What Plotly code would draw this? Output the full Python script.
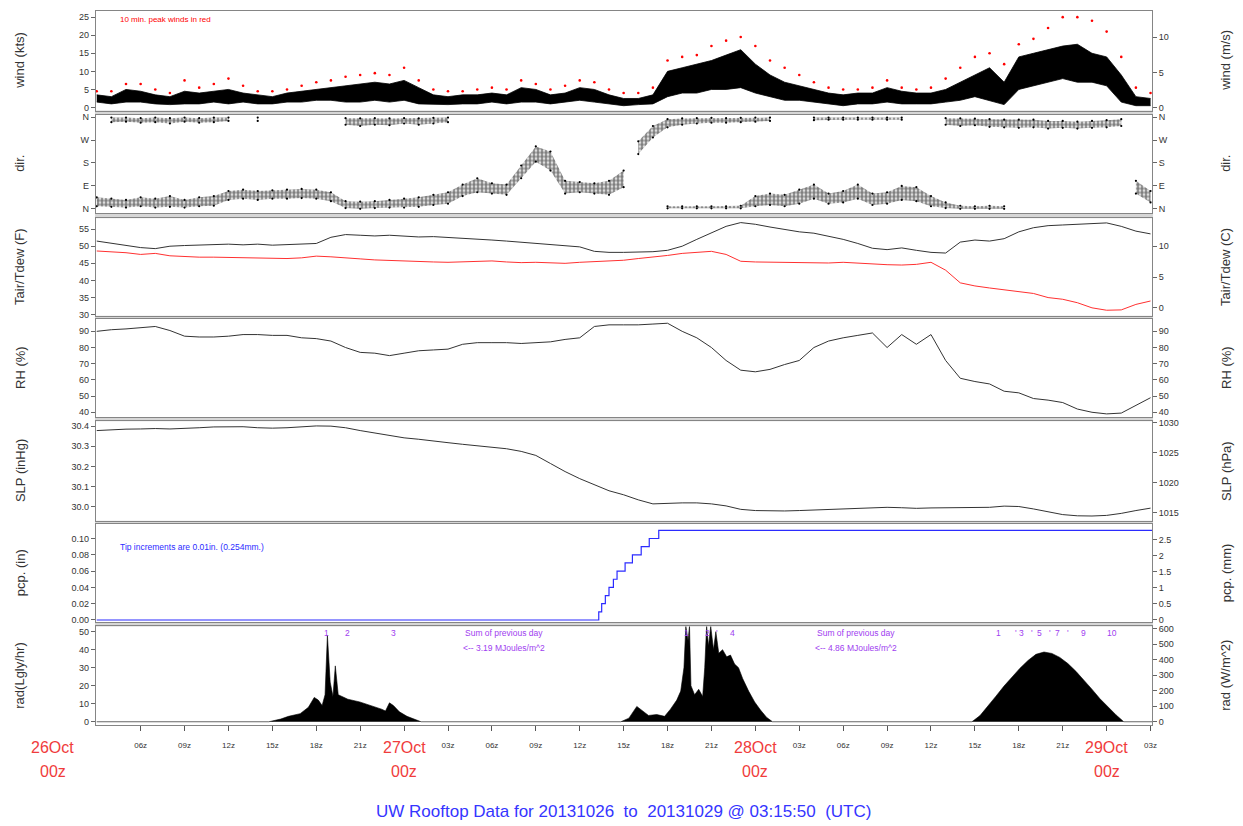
import plotly.graph_objects as go

# ------------------------------------------------------------------ data
# hours after 26 Oct 2013 00z
hours = list(range(3, 76))

wind_lo_kts = [1.5, 1.0, 1.5, 1.5, 1.0, 0.8, 1.0, 1.0, 1.5, 1.0,
               1.5, 1.0, 1.0, 1.5, 1.5, 2.0, 2.0, 1.5, 1.5, 2.0,
               1.5, 2.0, 1.0, 0.8, 0.8, 1.0, 1.0, 1.5, 1.0, 1.5,
               1.5, 1.0, 1.5, 2.0, 1.5, 1.0, 0.5, 0.8, 1.0, 3.0,
               4.0, 4.0, 5.0, 5.0, 5.5, 4.0, 3.0, 2.0, 2.0, 1.5,
               1.0, 0.5, 1.0, 1.0, 1.5, 1.0, 1.0, 1.0, 1.5, 2.0,
               3.0, 2.0, 0.8, 5.0, 6.0, 7.0, 8.0, 7.0, 7.0, 6.0,
               1.5, 0.5, 0.5]
wind_hi_kts = [3.5, 3.0, 5.0, 4.5, 3.5, 3.0, 4.5, 4.0, 4.5, 5.0,
               4.0, 3.5, 3.0, 4.0, 4.5, 5.0, 5.5, 6.0, 6.5, 7.0,
               6.5, 7.5, 5.5, 3.5, 3.0, 3.5, 3.5, 4.0, 3.5, 5.5,
               5.0, 3.5, 4.0, 5.5, 5.0, 3.5, 2.5, 2.5, 3.5, 10.0,
               11.0, 12.0, 13.0, 14.5, 16.0, 12.0, 9.0, 7.0, 6.0, 5.0,
               4.0, 3.5, 4.0, 4.0, 5.5, 4.5, 4.0, 4.0, 5.0, 7.0,
               9.0, 11.0, 7.0, 14.0, 15.0, 16.0, 17.0, 17.5, 15.0, 14.0,
               9.0, 3.0, 2.5]
wind_peak_kts = [4.5, 4.5, 6.5, 6.5, 5.0, 4.0, 7.5, 5.5, 6.5, 8.0,
                 6.0, 4.5, 4.5, 5.0, 6.0, 7.0, 7.5, 8.5, 9.0, 9.5,
                 9.0, 11.0, 7.5, 5.0, 4.5, 4.5, 5.0, 5.5, 5.0, 7.5,
                 6.5, 5.0, 6.0, 7.5, 7.0, 5.0, 4.0, 4.0, 5.5, 13.0,
                 14.0, 14.5, 17.0, 18.5, 19.5, 17.0, 13.0, 11.0, 9.0, 7.0,
                 5.5, 5.0, 5.0, 5.5, 7.5, 5.5, 5.0, 5.5, 8.0, 11.0,
                 14.0, 15.0, 12.0, 17.5, 19.0, 22.0, 25.0, 25.0, 24.0, 21.0,
                 14.0, 5.5, 4.0]

N = None
dir1_lo = [10, 8, 5, 10, 5, 8, 5, 10, 12, 35,
           40, 35, 40, 40, 42, 40, 30, 3, 0, 3,
           5, 5, 8, 15, 20, 50, 65, 60, 55, 120,
           185, 150, 60, 65, 60, 55, 85, N, N, 2,
           2, 2, 2, 2, 2, 10, 15, 10, 20, 40,
           20, 25, 40, 15, 20, 35, 30, 10, 3, 0,
           0, 0, 0, N, N, N, N, N, N, N,
           N, 60, 25]
dir1_hi = [45, 40, 35, 45, 40, 50, 35, 45, 50, 70,
           75, 70, 72, 75, 78, 75, 65, 30, 28, 30,
           35, 40, 45, 55, 65, 95, 120, 100, 95, 170,
           245, 225, 110, 105, 100, 110, 150, N, N, 10,
           10, 10, 10, 10, 12, 50, 60, 55, 75, 95,
           60, 70, 95, 60, 65, 90, 85, 50, 25, 12,
           10, 12, 10, N, N, N, N, N, N, N,
           N, 110, 70]
dir2_lo = [N, 340, 342, 338, 340, 335, 342, 338, 340, 345,
           N, 345, N, N, N, N, N, 330, 325, 330,
           328, 335, 330, 335, 340, N, N, N, N, N,
           N, N, N, N, N, N, N, 215, 280, 320,
           330, 335, 338, 338, 340, 342, 345, N, N, 348,
           350, 350, 350, 350, 350, 350, N, N, 330, 325,
           328, 322, 320, 318, 320, 315, 318, 315, 318, 320,
           325, N, N]
dir2_hi = [N, 358, 358, 356, 358, 356, 358, 356, 358, 358,
           N, 358, N, N, N, N, N, 356, 355, 356,
           355, 356, 355, 357, 358, N, N, N, N, N,
           N, N, N, N, N, N, N, 265, 325, 352,
           355, 356, 357, 356, 357, 358, 358, N, N, 358,
           358, 358, 358, 358, 358, 358, N, N, 356, 355,
           354, 352, 350, 350, 350, 345, 345, 342, 345, 348,
           352, N, N]

tair_f = [51.5, 50.8, 50.2, 49.6, 49.3, 50.0, 50.2, 50.4, 50.5, 50.6,
          50.4, 50.6, 50.3, 50.4, 50.5, 50.8, 52.6, 53.4, 53.2, 53.0,
          53.2, 52.9, 52.7, 52.8, 52.6, 52.3, 52.0, 51.8, 51.5, 51.2,
          50.9, 50.6, 50.2, 49.8, 48.5, 48.2, 48.2, 48.3, 48.4, 48.8,
          50.0, 52.0, 54.0, 55.8, 56.9, 56.4, 55.6, 54.8, 54.2, 53.8,
          53.0, 52.0, 50.8, 49.4, 49.0, 49.5, 48.8, 48.2, 48.0, 51.2,
          51.8, 51.5, 52.2, 54.2, 55.4, 56.0, 56.2, 56.4, 56.6, 56.8,
          55.8, 54.4, 53.6]
tdew_f = [48.6, 48.4, 48.1, 47.6, 47.9, 47.2, 46.9, 46.8, 46.8, 46.7,
          46.6, 46.6, 46.5, 46.4, 46.6, 47.1, 46.9, 46.5, 46.3, 46.0,
          45.8, 45.6, 45.5, 45.4, 45.3, 45.5, 45.6, 45.7, 45.4, 45.2,
          45.3, 45.1, 45.0, 45.3, 45.5, 45.6, 45.9, 46.4, 46.8, 47.3,
          47.9, 48.3, 48.5, 47.6, 45.6, 45.4, 45.3, 45.2, 45.3, 45.0,
          45.1, 45.3, 45.0, 44.8, 44.6, 44.5, 44.7, 45.3, 43.0, 39.3,
          38.4, 37.8, 37.2, 36.8, 36.2, 35.0, 34.5, 33.5, 32.0, 31.3,
          31.4, 33.0, 34.0]
rh_pct = [90.0, 91.0, 91.5, 92.2, 93.0, 90.5, 87.0, 86.5, 86.5, 87.0,
          88.0, 88.0, 87.5, 87.5, 86.0, 85.5, 84.0, 80.0, 77.0, 76.5,
          75.0, 76.5, 78.0, 78.5, 79.0, 82.0, 83.0, 83.0, 83.0, 82.5,
          83.0, 83.5, 85.0, 86.0, 93.0, 94.0, 94.0, 94.0, 94.5, 95.0,
          90.0, 86.0, 80.0, 72.0, 66.0, 65.0, 66.5, 69.5, 72.0, 80.0,
          84.0, 86.0, 87.5, 89.0, 80.0, 88.0, 82.0, 88.0, 72.0, 61.0,
          59.0, 57.5, 53.0, 52.0, 48.5, 47.5, 46.0, 42.0, 40.0, 39.0,
          39.5, 44.0, 49.0]
slp_inhg = [30.378, 30.382, 30.385, 30.386, 30.388, 30.386, 30.388, 30.392, 30.396, 30.398,
            30.397, 30.392, 30.390, 30.392, 30.398, 30.401, 30.400, 30.392, 30.378, 30.365,
            30.352, 30.342, 30.335, 30.325, 30.318, 30.310, 30.302, 30.296, 30.288, 30.275,
            30.255, 30.215, 30.175, 30.140, 30.110, 30.080, 30.060, 30.035, 30.015, 30.018,
            30.020, 30.020, 30.015, 30.005, 29.988, 29.982, 29.980, 29.980, 29.982, 29.985,
            29.988, 29.992, 29.995, 29.997, 29.998, 29.996, 29.993, 29.995, 29.996, 29.994,
            29.995, 29.998, 30.004, 30.002, 29.990, 29.975, 29.962, 29.956, 29.955, 29.958,
            29.968, 29.982, 29.994]

pcp_hours = [3.0, 37.3, 37.5, 37.75, 38.0, 38.3, 38.55, 39.1, 39.6, 40.2, 40.75, 41.4, 75.1]
pcp_in = [0.0, 0.01, 0.02, 0.03, 0.04, 0.05, 0.06, 0.07, 0.08, 0.09, 0.10, 0.11, 0.11]

rad_hours = [3.0, 14.76, 15.57, 16.1, 16.9, 17.46, 17.86, 18.14, 18.4, 18.6, 18.76, 18.95, 19.14,
             19.3, 19.5, 20.16, 20.97, 21.8, 22.46, 22.73, 23.0, 23.27, 23.68, 24.2, 24.76, 25.16,
             38.81, 39.36, 39.9, 40.3, 40.7, 41.26, 41.8, 42.2, 42.63, 42.9, 43.12, 43.25, 43.4,
             43.5, 43.6, 43.85, 44.13, 44.4, 44.54, 44.67, 44.8, 44.95, 45.14, 45.3, 45.5, 45.76,
             46.04, 46.3, 46.58, 46.85, 47.13, 47.54, 47.95, 48.35, 48.76, 49.17,
             62.8, 63.35, 63.9, 64.44, 64.99, 65.53, 66.08, 66.63, 67.17, 67.72, 68.26, 68.8,
             69.35, 69.9, 70.44, 70.99, 71.53, 72.08, 72.63, 73.17, 75.1]
rad_lgly = [0, 0, 1.5, 3, 4.5, 8, 13.5, 12, 9, 15, 48, 22, 14,
            31, 15, 12.5, 11, 9, 7, 6, 10.5, 9, 5.5, 3, 1, 0,
            0, 2, 8.5, 6, 3.5, 4, 3, 7, 12, 17, 30, 53, 45,
            53, 20, 15, 18, 14, 30, 53, 42, 53, 40, 50, 38, 40,
            36, 37, 32, 30, 24, 17, 11, 6.5, 2.5, 0,
            0, 3.4, 8.6, 14.2, 19.8, 25, 29.7, 34, 37.4, 38.7, 37.9, 35.7,
            32.3, 28, 23.2, 18.1, 12.9, 8.2, 3.9, 0, 0]

tick_hours = list(range(6, 76, 3))
tick_labels = ["06z", "09z", "12z", "15z", "18z", "21z", "",
               "03z", "06z", "09z", "12z", "15z", "18z", "21z", "",
               "03z", "06z", "09z", "12z", "15z", "18z", "21z", "", "03z"]
day_hours = [0, 24, 48, 72]
day_labels = ["26Oct", "27Oct", "28Oct", "29Oct"]

rad_marks_hours = [18.68, 20.1, 23.27, 43.31, 44.75, 45.35, 46.45,
                   64.58, 65.8, 66.2, 66.9, 67.44, 68.1, 68.67, 69.35, 70.4, 72.35]
rad_marks_text = ["1", "2", "3", "1", "2", "'", "4",
                  "1", "'", "3", "'", "5", "'", "7", "'", "9", "10"]
sum_hours = [30.8, 54.85]
sum_text = ["3.19", "4.86"]

# ------------------------------------------------------------------ layout helpers
W, H = 1243, 826
PL, PR, PT, PB = 96, 1152, 8, 725
XR = [2.95, 75.1]
panels_px = [(8, 108), (112, 211), (216, 314), (317, 416), (420, 520), (523, 622), (626, 725)]


def dom(top, bot):
    return [(PB - bot) / (PB - PT), (PB - top) / (PB - PT)]


def xp(px):
    return (px - PL) / (PR - PL)


def yp(py):
    return (PB - py) / (PB - PT)


def xh(h):
    return (h - XR[0]) / (XR[1] - XR[0])


left_ranges = [[-0.85, 26.7], [-17, 370], [29.7, 58.2], [36.9, 97.8],
               [29.931, 30.424], [-0.003, 0.118], [-1.8, 52.9]]
conv = [lambda v: v / 1.94384, lambda v: v, lambda v: (v - 32) * 5 / 9, lambda v: v,
        lambda v: v * 33.8639, lambda v: v * 25.4, lambda v: v * 11.622]
left_ticks = [
    (list(range(0, 26, 5)), [str(v) for v in range(0, 26, 5)]),
    ([0, 90, 180, 270, 360], ["N", "E", "S", "W", "N"]),
    (list(range(30, 56, 5)), [str(v) for v in range(30, 56, 5)]),
    (list(range(40, 91, 10)), [str(v) for v in range(40, 91, 10)]),
    ([30.0, 30.1, 30.2, 30.3, 30.4], ["30.0", "30.1", "30.2", "30.3", "30.4"]),
    ([0, 0.02, 0.04, 0.06, 0.08, 0.10], ["0.00", "0.02", "0.04", "0.06", "0.08", "0.10"]),
    (list(range(0, 51, 10)), [str(v) for v in range(0, 51, 10)]),
]
right_ticks = [
    ([0, 5, 10], ["0", "5", "10"]),
    ([0, 90, 180, 270, 360], ["N", "E", "S", "W", "N"]),
    ([0, 5, 10], ["0", "5", "10"]),
    (list(range(40, 91, 10)), [str(v) for v in range(40, 91, 10)]),
    ([1015, 1020, 1025, 1030], ["1015", "1020", "1025", "1030"]),
    ([0, 0.5, 1, 1.5, 2, 2.5], ["0", "0.5", "1", "1.5", "2", "2.5"]),
    (list(range(0, 601, 100)), [str(v) for v in range(0, 601, 100)]),
]
left_titles = ["wind (kts)", "dir.", "Tair/Tdew (F)", "RH (%)", "SLP (inHg)", "pcp. (in)", "rad(Lgly/hr)"]
right_titles = ["wind (m/s)", "dir.", "Tair/Tdew (C)", "RH (%)", "SLP (hPa)", "pcp. (mm)", "rad (W/m^2)"]

FONT = "Liberation Sans, Arial, sans-serif"
FRAME = "#858585"

fig = go.Figure()


def ax(i, base):
    return base if i == 1 else f"{base}{i}"


# ---- wind: band between hourly low/high readings, peaks as red dots
fig.add_trace(go.Scatter(x=hours, y=wind_lo_kts, mode="lines", line=dict(color="black", width=0.8),
                         xaxis="x", yaxis="y", showlegend=False))
fig.add_trace(go.Scatter(x=hours, y=wind_hi_kts, mode="lines", line=dict(color="black", width=0.8),
                         fill="tonexty", fillcolor="black", xaxis="x", yaxis="y", showlegend=False))
fig.add_trace(go.Scatter(x=hours, y=wind_peak_kts, mode="markers",
                         marker=dict(color="red", size=2.6), xaxis="x", yaxis="y", showlegend=False))


# ---- direction clouds (dotted pattern polygons)
def runs(lo, hi):
    out, cur = [], []
    for h, a, b in zip(hours, lo, hi):
        if a is None:
            if len(cur) > 1:
                out.append(cur)
            cur = []
        else:
            cur.append((h, a, b))
    if len(cur) > 1:
        out.append(cur)
    return out


for lo, hi in ((dir1_lo, dir1_hi), (dir2_lo, dir2_hi)):
    for seg in runs(lo, hi):
        xs = [s[0] for s in seg] + [s[0] for s in reversed(seg)]
        ys = [s[1] for s in seg] + [s[2] for s in reversed(seg)]
        fig.add_trace(go.Scatter(x=xs, y=ys, mode="lines", line=dict(width=0), fill="toself",
                                 fillcolor="rgba(0,0,0,0)",
                                 fillpattern=dict(shape=".", fgcolor="black", size=4, solidity=0.7),
                                 xaxis="x2", yaxis="y2", showlegend=False))
    pts_x = [h for h, a in zip(hours, lo) if a is not None] * 2
    pts_y = [a for a in lo if a is not None] + [b for b in hi if b is not None]
    fig.add_trace(go.Scatter(x=pts_x, y=pts_y, mode="markers", marker=dict(color="black", size=2.2),
                             xaxis="x2", yaxis="y2", showlegend=False))

# ---- temperature
fig.add_trace(go.Scatter(x=hours, y=tair_f, mode="lines", line=dict(color="#333333", width=1),
                         xaxis="x3", yaxis="y3", showlegend=False))
fig.add_trace(go.Scatter(x=hours, y=tdew_f, mode="lines", line=dict(color="#ff3030", width=1),
                         xaxis="x3", yaxis="y3", showlegend=False))
# ---- RH
fig.add_trace(go.Scatter(x=hours, y=rh_pct, mode="lines", line=dict(color="#333333", width=1),
                         xaxis="x4", yaxis="y4", showlegend=False))
# ---- SLP
fig.add_trace(go.Scatter(x=hours, y=slp_inhg, mode="lines", line=dict(color="#333333", width=1),
                         xaxis="x5", yaxis="y5", showlegend=False))
# ---- precipitation
fig.add_trace(go.Scatter(x=pcp_hours, y=pcp_in, mode="lines", line=dict(color="#2b2bff", width=1.2, shape="hv"),
                         xaxis="x6", yaxis="y6", showlegend=False))
# ---- radiation
fig.add_trace(go.Scatter(x=rad_hours, y=rad_lgly, mode="lines", line=dict(color="black", width=0.6),
                         fill="tozeroy", fillcolor="black", xaxis="x7", yaxis="y7", showlegend=False))

layout = dict(width=W, height=H, paper_bgcolor="white", plot_bgcolor="white",
              margin=dict(l=PL, r=W - PR, t=PT, b=H - PB),
              font=dict(family=FONT, color="#333"), showlegend=False)

for i in range(1, 8):
    top, bot = panels_px[i - 1]
    d = dom(top, bot)
    xa = dict(domain=[0, 1], anchor=ax(i, "y"), range=XR, showline=True, linecolor=FRAME, linewidth=1.4,
              mirror=True, showgrid=False, zeroline=False, showticklabels=False, ticks="")
    if i > 1:
        xa["matches"] = "x"
    if i == 7:
        xa.update(showticklabels=True, ticks="outside", ticklen=5, tickcolor="#555", tickwidth=1,
                  tickmode="array", tickvals=tick_hours, ticktext=tick_labels, ticklabelstandoff=7,
                  tickfont=dict(size=8, color="#333", family=FONT))
    layout[ax(i, "xaxis")] = xa
    tv, tt = left_ticks[i - 1]
    layout[ax(i, "yaxis")] = dict(domain=d, anchor=ax(i, "x"), range=left_ranges[i - 1], showline=True,
                                  linecolor=FRAME, linewidth=1.4, mirror=True, showgrid=False, zeroline=False,
                                  ticks="outside", ticklen=4, tickcolor="#666", tickmode="array",
                                  tickvals=tv, ticktext=tt, tickfont=dict(size=9, color="#333", family=FONT))
    rv, rt = right_ticks[i - 1]
    rr = [conv[i - 1](left_ranges[i - 1][0]), conv[i - 1](left_ranges[i - 1][1])]
    layout[f"yaxis{7 + i}"] = dict(overlaying=ax(i, "y"), side="right", anchor=ax(i, "x"), range=rr,
                                   showline=False, showgrid=False, zeroline=False, ticks="outside", ticklen=4,
                                   tickcolor="#666", tickmode="array", tickvals=rv, ticktext=rt,
                                   tickfont=dict(size=9, color="#333", family=FONT))
    fig.add_trace(go.Scatter(x=[XR[0]], y=[rr[0]], mode="markers", marker=dict(opacity=0),
                             xaxis=ax(i, "x"), yaxis=f"y{7 + i}", showlegend=False, hoverinfo="skip"))

shapes = []
for i in range(6):
    b = panels_px[i][1]
    t = panels_px[i + 1][0]
    shapes.append(dict(type="rect", xref="paper", yref="paper", x0=-0.001, x1=1.001, y0=yp(t), y1=yp(b),
                       fillcolor="#d6d6d6", line=dict(width=0), layer="below"))
layout["shapes"] = shapes


def note(text, x, y, size, color, xref="paper", xanchor="center", angle=0):
    return dict(text=text, x=x, y=y, xref=xref, yref="paper", xanchor=xanchor, yanchor="middle",
                textangle=angle, showarrow=False, font=dict(size=size, color=color, family=FONT))


ann = []
for i in range(7):
    top, bot = panels_px[i]
    yc = yp((top + bot) / 2)
    ann.append(note(left_titles[i], xp(20), yc, 13, "#333", angle=-90))
    ann.append(note(right_titles[i], xp(1226), yc, 13, "#333", angle=-90))

ann.append(note("10 min. peak winds in red", xp(118), yp(17), 8, "red", xanchor="left"))
ann.append(note("Tip increments are 0.01in. (0.254mm.)", xp(118), yp(546), 8.5, "#2b2bff", xanchor="left"))

PURPLE = "#a040f0"
for h, t in zip(rad_marks_hours, rad_marks_text):
    ann.append(note(t, h, yp(633), 8.5, PURPLE, xref="x7"))
for h, t in zip(sum_hours, sum_text):
    ann.append(note("Sum of previous day", h, yp(633), 8.5, PURPLE, xref="x7"))
    ann.append(note(f"<-- {t} MJoules/m^2", h, yp(648), 8.5, PURPLE, xref="x7"))

for h, t in zip(day_hours, day_labels):
    ann.append(note(t, xh(h), yp(748), 16, "#f03c3c"))
    ann.append(note("00z", xh(h), yp(772), 16, "#f03c3c"))

ann.append(note("UW Rooftop Data for 20131026\u00a0\u00a0to\u00a0\u00a020131029 @ 03:15:50\u00a0\u00a0(UTC)",
                xp(623), yp(812), 17, "#3535ff"))
layout["annotations"] = ann

fig.update_layout(**layout)
fig.write_html("out.html", config={"displayModeBar": False},
               post_script="document.body.style.margin='0';document.body.style.overflow='hidden';")
